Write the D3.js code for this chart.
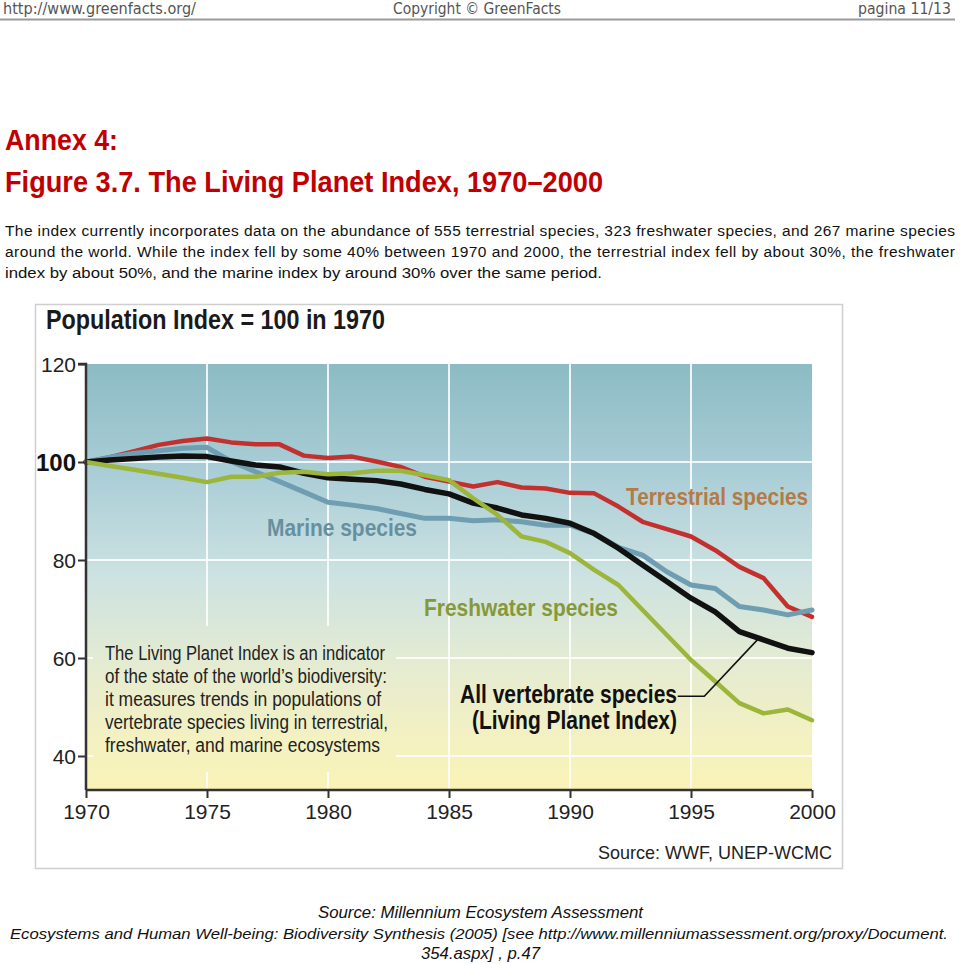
<!DOCTYPE html>
<html>
<head>
<meta charset="utf-8">
<script src="https://cdn.jsdelivr.net/npm/d3@7"></script>
<style>
  html, body { margin: 0; padding: 0; background: #fff; }
  svg { display: block; }
</style>
</head>
<body>
<svg id="page" width="960" height="964"></svg>
<script>
// ---------------- DATA ----------------
const years = [1970, 1971, 1972, 1973, 1974, 1975, 1976, 1977, 1978, 1979,
               1980, 1981, 1982, 1983, 1984, 1985, 1986, 1987, 1988, 1989,
               1990, 1991, 1992, 1993, 1994, 1995, 1996, 1997, 1998, 1999, 2000];

const terrestrial = [100, 101.0, 102.2, 103.5, 104.3, 104.8, 104.0, 103.6, 103.6, 101.3,
                     100.8, 101.1, 100.1, 99.0, 97.0, 96.0, 95.0, 95.9, 94.8, 94.6,
                     93.7, 93.6, 90.9, 87.8, 86.3, 84.8, 82.0, 78.6, 76.3, 70.5, 68.4];

const marine = [100, 101.0, 101.8, 102.3, 102.8, 103.0, 100.1, 98.0, 96.0, 93.9,
                91.8, 91.2, 90.5, 89.5, 88.5, 88.5, 88.0, 88.2, 87.8, 87.1,
                87.1, 85.4, 82.6, 81.0, 77.6, 74.9, 74.2, 70.5, 69.8, 68.8, 69.8];

const freshwater = [100, 99.2, 98.4, 97.6, 96.8, 95.9, 97.0, 97.0, 97.8, 98.0,
                    97.5, 97.7, 98.2, 98.2, 97.3, 96.3, 92.6, 89.2, 84.8, 83.7,
                    81.4, 78.0, 74.9, 69.8, 64.7, 59.6, 55.2, 50.8, 48.7, 49.5, 47.3];

const allVertebrates = [100, 100.4, 100.7, 101.0, 101.2, 101.1, 100.2, 99.4, 99.0, 97.7,
                        96.8, 96.5, 96.2, 95.5, 94.4, 93.5, 91.6, 90.6, 89.2, 88.5,
                        87.5, 85.4, 82.4, 79.0, 75.6, 72.2, 69.4, 65.4, 63.7, 62.0, 61.1];

const xTicks = [1970, 1975, 1980, 1985, 1990, 1995, 2000];
const yTicks = [40, 60, 80, 100, 120];

const seriesNames = ["Terrestrial species", "Marine species", "Freshwater species", "All vertebrate species"];

const pageHeader = ["http://www.greenfacts.org/", "Copyright \u00A9 GreenFacts", "pagina 11/13"];
const titleLines = ["Annex 4:", "Figure 3.7. The Living Planet Index, 1970\u20132000"];
const paragraphLines = [
  "The index currently incorporates data on the abundance of 555 terrestrial species, 323 freshwater species, and 267 marine species",
  "around the world. While the index fell by some 40% between 1970 and 2000, the terrestrial index fell by about 30%, the freshwater",
  "index by about 50%, and the marine index by around 30% over the same period."
];
const chartTitle = "Population Index = 100 in 1970";
const boxLines = [
  "The Living Planet Index is an indicator",
  "of the state of the world\u2019s biodiversity:",
  "it measures trends in populations of",
  "vertebrate species living in terrestrial,",
  "freshwater, and marine ecosystems"
];
const lpiLines = ["All vertebrate species", "(Living Planet Index)"];
const chartSource = "Source: WWF, UNEP-WCMC";
const footerLines = [
  "Source: Millennium Ecosystem Assessment",
  "Ecosystems and Human Well-being: Biodiversity Synthesis (2005) [see http://www.millenniumassessment.org/proxy/Document.",
  "354.aspx] , p.47"
];

// ---------------- LAYOUT ----------------
const svg = d3.select("#page");
const NARROW = "'Liberation Sans Narrow', 'Arial Narrow', 'Liberation Sans', Arial, sans-serif";
const SANS = "'Liberation Sans', Arial, sans-serif";
const HEAD = "'DejaVu Sans Condensed', 'DejaVu Sans', Verdana, sans-serif";

const plot = { left: 86, right: 812, top: 364, bottom: 790 };
const x = d3.scaleLinear().domain([1970, 2000]).range([plot.left, plot.right]);
const y = d3.scaleLinear().domain([120 - (plot.bottom - plot.top) / 4.9, 120]).range([plot.bottom, plot.top]);

function fitText(sel, str, xx, yy, len, opts) {
  const t = sel.append("text")
    .attr("x", xx).attr("y", yy)
    .attr("font-family", opts.family)
    .attr("font-size", opts.size)
    .attr("font-weight", opts.weight || "normal")
    .attr("font-style", opts.style || "normal")
    .attr("fill", opts.fill || "#000")
    .text(str);
  if (len) t.attr("textLength", len).attr("lengthAdjust", "spacingAndGlyphs");
  return t;
}

// ---- page header ----
fitText(svg, pageHeader[0], 3, 14, 193, { family: HEAD, size: 15, fill: "#555" });
fitText(svg, pageHeader[1], 393, 14, 168, { family: HEAD, size: 15, fill: "#555" });
fitText(svg, pageHeader[2], 858, 14, 93, { family: HEAD, size: 15, fill: "#555" });
svg.append("line").attr("x1", 0).attr("x2", 955).attr("y1", 19.5).attr("y2", 19.5)
  .attr("stroke", "#9a9a9a").attr("stroke-width", 2);

// ---- title ----
fitText(svg, titleLines[0], 5, 150, 113, { family: NARROW, size: 30, weight: "bold", fill: "#c00000" });
fitText(svg, titleLines[1], 5, 192, 598, { family: NARROW, size: 30, weight: "bold", fill: "#c00000" });

// ---- paragraph ----
const paraLens = [950, 950, 597];
paragraphLines.forEach((l, i) => {
  const t = svg.append("text").attr("x", 5).attr("y", 236 + i * 21)
    .attr("font-family", SANS).attr("font-size", 15.5).attr("fill", "#111").text(l);
  t.attr("textLength", paraLens[i]).attr("lengthAdjust", i < 2 ? "spacing" : "spacingAndGlyphs");
});

// ---- chart frame ----
svg.append("rect").attr("x", 35.5).attr("y", 304.5).attr("width", 807).attr("height", 564)
  .attr("fill", "#fff").attr("stroke", "#cfcfcf").attr("stroke-width", 1.5);

fitText(svg, chartTitle, 46, 329, 339, { family: NARROW, size: 28, weight: "bold", fill: "#1a1a1a" });

// gradient
const defs = svg.append("defs");
const grad = defs.append("linearGradient").attr("id", "bg")
  .attr("gradientUnits", "userSpaceOnUse")
  .attr("x1", 0).attr("y1", plot.top).attr("x2", 0).attr("y2", plot.bottom);
[[0, "#8cbbc4"], [0.25, "#a9cdd6"], [0.5, "#cde2e2"], [0.72, "#e6ecd0"], [0.88, "#f4f1c2"], [1, "#f9f3b6"]]
  .forEach(([o, c]) => grad.append("stop").attr("offset", o).attr("stop-color", c));

svg.append("rect").attr("x", plot.left).attr("y", plot.top)
  .attr("width", plot.right - plot.left).attr("height", plot.bottom - plot.top)
  .attr("fill", "url(#bg)");

// gridlines
const g = svg.append("g");
g.selectAll(".vg").data(xTicks.filter(d => d > 1970 && d < 2000)).join("line")
  .attr("x1", d => x(d)).attr("x2", d => x(d)).attr("y1", plot.top).attr("y2", plot.bottom)
  .attr("stroke", "#fff").attr("stroke-width", 2).attr("opacity", 0.85);
g.selectAll(".hg").data(yTicks.filter(d => d < 120)).join("line")
  .attr("x1", plot.left).attr("x2", plot.right).attr("y1", d => y(d)).attr("y2", d => y(d))
  .attr("stroke", "#fff").attr("stroke-width", 2).attr("opacity", 0.85);

// text box covering gridlines
svg.append("rect").attr("x", 93).attr("y", 626).attr("width", 303).attr("height", 146)
  .attr("fill", "url(#bg)");

// lines
const line = d3.line().x((d, i) => x(years[i])).y(d => y(d));
const series = [
  { data: terrestrial, color: "#c3312f", w: 4.5 },
  { data: marine, color: "#6f9db1", w: 5 },
  { data: allVertebrates, color: "#111111", w: 5.5 },
  { data: freshwater, color: "#9cb53b", w: 4.5 }
];
svg.append("g").selectAll("path").data(series).join("path")
  .attr("d", d => line(d.data))
  .attr("fill", "none").attr("stroke", d => d.color).attr("stroke-width", d => d.w)
  .attr("stroke-linejoin", "round").attr("stroke-linecap", "round");

// axes
const yAxis = d3.axisLeft(y).tickValues(yTicks).tickSize(8).tickPadding(2).tickFormat(d3.format("d"));
const yg = svg.append("g").attr("transform", `translate(${plot.left},0)`).call(yAxis);
yg.select(".domain").attr("stroke", "#333").attr("stroke-width", 2.5)
  .attr("d", `M-8,${plot.top}H0V${plot.bottom}`);
yg.selectAll(".tick line").attr("stroke", "#333").attr("stroke-width", 2);
yg.selectAll(".tick text").attr("font-family", NARROW).attr("font-size", 21).attr("fill", "#222")
  .attr("dy", "0.35em");
yg.selectAll(".tick text").filter(d => d === 100).attr("font-size", 24).attr("font-weight", "bold").attr("fill", "#111");

const xAxis = d3.axisBottom(x).tickValues(xTicks).tickSize(8).tickPadding(6).tickFormat(d3.format("d"));
const xg = svg.append("g").attr("transform", `translate(0,${plot.bottom})`).call(xAxis);
xg.select(".domain").attr("stroke", "#333").attr("stroke-width", 2.5)
  .attr("d", `M${plot.left},0H${plot.right}`);
xg.selectAll(".tick line").attr("stroke", "#333").attr("stroke-width", 2);
xg.selectAll(".tick text").attr("font-family", NARROW).attr("font-size", 21).attr("fill", "#222");

// series labels
fitText(svg, seriesNames[0], 626, 505, 182, { family: NARROW, size: 24, weight: "bold", fill: "#b57a46" });
fitText(svg, seriesNames[1], 267, 536, 150, { family: NARROW, size: 24, weight: "bold", fill: "#66909f" });
fitText(svg, seriesNames[2], 424, 616, 194, { family: NARROW, size: 24, weight: "bold", fill: "#86993a" });
fitText(svg, lpiLines[0], 460, 703, 217, { family: NARROW, size: 25, weight: "bold", fill: "#111" });
fitText(svg, lpiLines[1], 472, 729, 205, { family: NARROW, size: 25, weight: "bold", fill: "#111" });

// leader line
svg.append("path")
  .attr("d", d3.line()([[x(1994.45), y(52.2)], [x(1995.55), y(52.2)], [x(1997.78), y(63.9)]]))
  .attr("fill", "none").attr("stroke", "#111").attr("stroke-width", 1.6);

// description box text
const boxLens = [280, 282, 276, 283, 275];
boxLines.forEach((l, i) => {
  fitText(svg, l, 105, 660 + i * 23, boxLens[i], { family: NARROW, size: 20, fill: "#222" });
});

// chart source
fitText(svg, chartSource, 598, 859, 234, { family: NARROW, size: 19, fill: "#222" });

// footer
const footLayout = [[318, 918, 325, 17], [10, 939, 938, 15.5], [421, 959, 119, 17]];
footerLines.forEach((l, i) => {
  fitText(svg, l, footLayout[i][0], footLayout[i][1], footLayout[i][2],
    { family: NARROW, size: footLayout[i][3], style: "italic", fill: "#111" });
});
</script>
</body>
</html>
